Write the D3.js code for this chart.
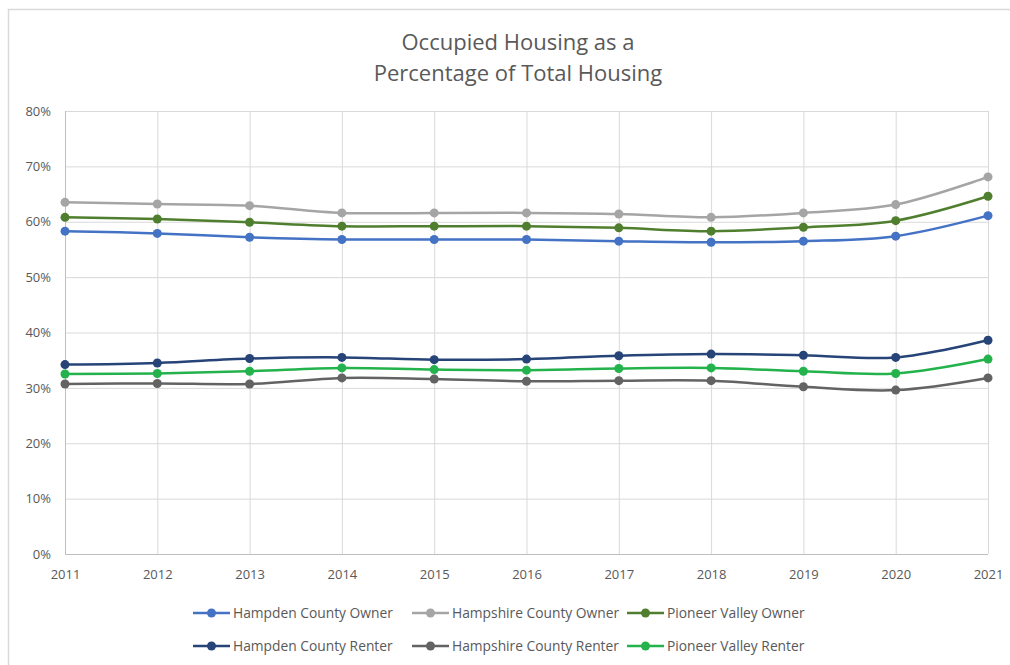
<!DOCTYPE html>
<html>
<head>
<meta charset="utf-8">
<script src="https://cdn.jsdelivr.net/npm/d3@7"></script>
<style>
  html, body { margin: 0; padding: 0; background: #fff; }
  svg { display: block; font-family: "Open Sans", "Noto Sans", sans-serif; }
</style>
</head>
<body>
<svg id="chart" width="1010" height="665"></svg>
<script>
// Years on the horizontal axis
const years = [2011, 2012, 2013, 2014, 2015, 2016, 2017, 2018, 2019, 2020, 2021];

// Share of total housing units that are occupied, by tenure (percent)
const hampdenOwner    = [58.3, 57.9, 57.2, 56.8, 56.8, 56.8, 56.5, 56.3, 56.5, 57.4, 61.1];
const hampshireOwner  = [63.5, 63.2, 62.9, 61.6, 61.6, 61.6, 61.4, 60.8, 61.6, 63.1, 68.1];
const pioneerOwner    = [60.8, 60.5, 59.9, 59.2, 59.2, 59.2, 58.9, 58.3, 59.0, 60.2, 64.6];
const hampdenRenter   = [34.2, 34.5, 35.3, 35.5, 35.1, 35.2, 35.8, 36.1, 35.9, 35.5, 38.6];
const hampshireRenter = [30.7, 30.8, 30.7, 31.8, 31.6, 31.2, 31.3, 31.3, 30.2, 29.6, 31.8];
const pioneerRenter   = [32.5, 32.6, 33.0, 33.6, 33.3, 33.2, 33.5, 33.6, 33.0, 32.6, 35.2];

const seriesNames = [
  "Hampden County Owner", "Hampshire County Owner", "Pioneer Valley Owner",
  "Hampden County Renter", "Hampshire County Renter", "Pioneer Valley Renter"
];
const seriesValues = [hampdenOwner, hampshireOwner, pioneerOwner, hampdenRenter, hampshireRenter, pioneerRenter];
const seriesColors = ["#4472C4", "#A5A5A5", "#4F7F2E", "#264478", "#636363", "#23B24B"];

const yTicks = [0, 10, 20, 30, 40, 50, 60, 70, 80];
const titleLines = ["Occupied Housing as a", "Percentage of Total Housing"];

const svg = d3.select("#chart");
const W = 1010, H = 665;
const plot = { left: 65, right: 988, top: 111, bottom: 554 };

// Chart frame
svg.append("rect")
  .attr("x", 8.5).attr("y", 9.5)
  .attr("width", W + 20).attr("height", H + 20)
  .attr("fill", "#fff").attr("stroke", "#d9d9d9").attr("stroke-width", 1.5);

const x = d3.scalePoint().domain(years).range([plot.left, plot.right]);
const y = d3.scaleLinear().domain([0, 80]).range([plot.bottom, plot.top]);

// Title
svg.append("text")
  .attr("x", 518).attr("y", 50)
  .attr("text-anchor", "middle")
  .attr("fill", "#595959")
  .attr("font-size", 22)
  .selectAll("tspan").data(titleLines).join("tspan")
  .attr("x", 518).attr("dy", (d, i) => i === 0 ? 0 : 31)
  .text(d => d);

// Horizontal gridlines + y labels
const yAxis = d3.axisLeft(y).tickValues(yTicks).tickFormat(d => d + "%")
  .tickSize(-(plot.right - plot.left)).tickPadding(14);
const gy = svg.append("g").attr("transform", `translate(${plot.left},0)`).call(yAxis);
gy.select(".domain").remove();
gy.selectAll(".tick line").attr("stroke", "#d9d9d9").attr("stroke-width", 1);
gy.selectAll(".tick text").attr("fill", "#595959").attr("font-size", 13)
  .attr("font-family", "'Open Sans', sans-serif");

// Vertical gridlines + x labels
const xAxis = d3.axisBottom(x).tickSize(-(plot.bottom - plot.top)).tickPadding(16);
const gx = svg.append("g").attr("transform", `translate(0,${plot.bottom})`).call(xAxis);
gx.select(".domain").remove();
gx.selectAll(".tick line").attr("stroke", "#d9d9d9").attr("stroke-width", 1);
gx.selectAll(".tick text").attr("fill", "#595959").attr("font-size", 13)
  .attr("font-family", "'Open Sans', sans-serif");

// Axis lines
svg.append("line")
  .attr("x1", plot.left).attr("x2", plot.right)
  .attr("y1", plot.bottom + 0.5).attr("y2", plot.bottom + 0.5)
  .attr("stroke", "#bfbfbf").attr("stroke-width", 1);
svg.append("line")
  .attr("x1", plot.left + 0.5).attr("x2", plot.left + 0.5)
  .attr("y1", plot.top).attr("y2", plot.bottom)
  .attr("stroke", "#bfbfbf").attr("stroke-width", 1);

// Smoothed series lines with circular markers
const line = d3.line()
  .x((d, i) => x(years[i]))
  .y(d => y(d))
  .curve(d3.curveCatmullRom.alpha(0.5));

const series = svg.append("g").selectAll("g")
  .data(seriesValues.map((v, i) => ({ name: seriesNames[i], values: v, color: seriesColors[i] })))
  .join("g");

series.append("path")
  .attr("d", d => line(d.values))
  .attr("fill", "none")
  .attr("stroke", d => d.color)
  .attr("stroke-width", 2.5);

series.selectAll("circle")
  .data(d => d.values.map((v, i) => ({ v, i, color: d.color })))
  .join("circle")
  .attr("cx", d => x(years[d.i]))
  .attr("cy", d => y(d.v))
  .attr("r", 4.5)
  .attr("fill", d => d.color);

// Legend: two rows of three
const legendX = [193, 412, 627];
const legendY = [613, 646];
const legend = svg.append("g").selectAll("g")
  .data(seriesNames.map((n, i) => ({ name: n, color: seriesColors[i], col: i % 3, row: Math.floor(i / 3) })))
  .join("g")
  .attr("transform", d => `translate(${legendX[d.col]},${legendY[d.row]})`);

legend.append("line")
  .attr("x1", 0).attr("x2", 37)
  .attr("stroke", d => d.color).attr("stroke-width", 2.5);
legend.append("circle")
  .attr("cx", 18.5).attr("r", 4.5).attr("fill", d => d.color);
legend.append("text")
  .attr("x", 40).attr("dy", "0.35em")
  .attr("fill", "#595959").attr("font-size", 13.8)
  .text(d => d.name);
</script>
</body>
</html>
